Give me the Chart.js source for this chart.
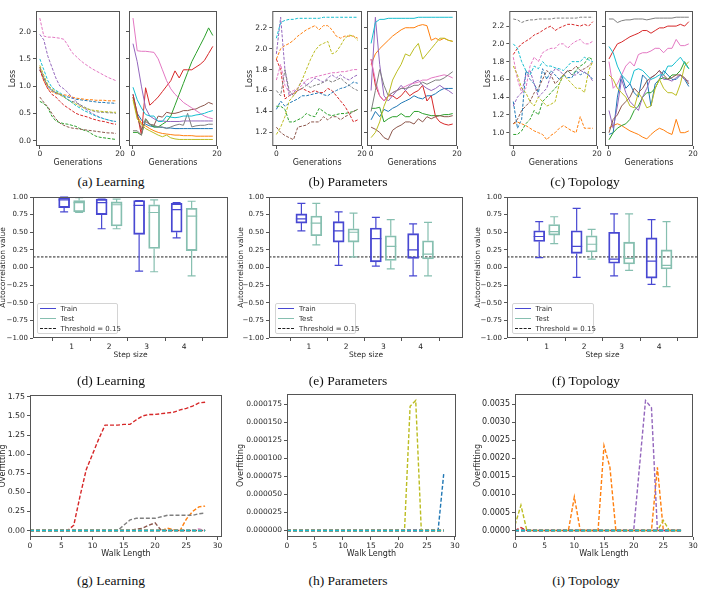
<!DOCTYPE html>
<html lang="en">
<head>
  <meta charset="UTF-8">
  <title>Fitness landscape analysis</title>
  <script src="https://cdn.jsdelivr.net/npm/chart.js"></script>
  <style>
    body { margin: 0; background: #fff; width: 701px; height: 590px; position: relative; overflow: hidden; font-family: 'DejaVu Sans', sans-serif; }
    canvas { position: absolute; }
    .cap { position: absolute; font-family: 'Liberation Serif', serif; font-size: 13.5px; line-height: 14px; color: #111; transform: translateX(-50%); white-space: nowrap; }
    .lg { position: absolute; height: 31px; border: 1px solid #d4d4d4; border-radius: 2px; background: rgba(255,255,255,0.85); box-sizing: border-box; font: 7px 'DejaVu Sans', sans-serif; color: #333; }
    .lg div { position: absolute; left: 0; height: 10px; line-height: 10px; white-space: nowrap; }
    .lg i { display: inline-block; width: 16px; height: 0; vertical-align: middle; margin: 0 5px 0 2px; }
  </style>
</head>
<body>
  <canvas id="aTest"></canvas><canvas id="aTrain"></canvas>
  <canvas id="bTest"></canvas><canvas id="bTrain"></canvas>
  <canvas id="cTest"></canvas><canvas id="cTrain"></canvas>
  <canvas id="dBox"></canvas><canvas id="eBox"></canvas><canvas id="fBox"></canvas>
  <canvas id="gOver"></canvas><canvas id="hOver"></canvas><canvas id="iOver"></canvas>

  <div class="cap" style="left:111px;top:175px">(a) Learning</div>
  <div class="cap" style="left:348px;top:175px">(b) Parameters</div>
  <div class="cap" style="left:585px;top:175px">(c) Topology</div>
  <div class="cap" style="left:111px;top:374px">(d) Learning</div>
  <div class="cap" style="left:348px;top:374px">(e) Parameters</div>
  <div class="cap" style="left:586px;top:374px">(f) Topology</div>
  <div class="cap" style="left:111px;top:574px">(g) Learning</div>
  <div class="cap" style="left:348px;top:574px">(h) Parameters</div>
  <div class="cap" style="left:586px;top:574px">(i) Topology</div>

  <script>
    // matplotlib tab10, series below are listed in this order
    const tab10 = ['#1f77b4', '#ff7f0e', '#2ca02c', '#d62728', '#9467bd', '#8c564b', '#e377c2', '#7f7f7f', '#bcbd22', '#17becf'];
    const FONT = "'DejaVu Sans', sans-serif";
    const INK = '#262626';
    const SPINE = '#555555';
    const trainColor = '#4848d2';
    const testColor = '#86bfb0';

    const generations = [0, 1, 2, 3, 4, 5, 6, 7, 8, 9, 10, 11, 12, 13, 14, 15, 16, 17, 18, 19];
    const generationTicks = [0, 20];
    const learningLossTicks = [0, 0.5, 1.0, 1.5, 2.0];
    const paramLossTicks = [1.2, 1.4, 1.6, 1.8, 2.0, 2.2];
    const topoLossTicks = [1.0, 1.2, 1.4, 1.6, 1.8, 2.0, 2.2];

    // (a) Learning - test loss (dashed) and train loss (solid), one row per tab10 colour
    const learningTest = [
      [1.30, 1.15, 1.00, 0.92, 0.88, 0.85, 0.82, 0.80, 0.78, 0.76, 0.75, 0.74, 0.73, 0.72, 0.71, 0.70, 0.70, 0.69, 0.69, 0.68],
      [1.35, 1.10, 0.95, 0.90, 0.86, 0.85, 0.84, 0.83, 0.80, 0.78, 0.77, 0.76, 0.75, 0.75, 0.74, 0.74, 0.74, 0.73, 0.73, 0.73],
      [0.72, 0.68, 0.60, 0.45, 0.36, 0.33, 0.31, 0.30, 0.28, 0.26, 0.22, 0.19, 0.17, 0.12, 0.08, 0.06, 0.05, 0.04, 0.03, 0.02],
      [1.30, 1.10, 0.95, 0.85, 0.80, 0.72, 0.65, 0.60, 0.55, 0.50, 0.47, 0.45, 0.43, 0.40, 0.38, 0.36, 0.35, 0.33, 0.31, 0.30],
      [1.95, 1.85, 1.55, 1.35, 1.15, 1.00, 0.95, 0.88, 0.80, 0.72, 0.65, 0.60, 0.55, 0.50, 0.46, 0.43, 0.40, 0.38, 0.36, 0.35],
      [0.80, 0.70, 0.62, 0.50, 0.40, 0.32, 0.28, 0.25, 0.23, 0.22, 0.21, 0.20, 0.19, 0.18, 0.17, 0.16, 0.15, 0.14, 0.14, 0.13],
      [2.25, 1.92, 1.90, 1.90, 1.89, 1.88, 1.86, 1.75, 1.62, 1.55, 1.48, 1.42, 1.37, 1.32, 1.28, 1.24, 1.20, 1.16, 1.13, 1.10],
      [1.35, 1.15, 1.00, 0.92, 0.88, 0.84, 0.80, 0.75, 0.72, 0.70, 0.66, 0.62, 0.58, 0.55, 0.53, 0.52, 0.52, 0.51, 0.51, 0.50],
      [1.38, 1.20, 1.02, 0.95, 0.90, 0.85, 0.80, 0.75, 0.70, 0.67, 0.63, 0.60, 0.58, 0.56, 0.55, 0.54, 0.53, 0.53, 0.52, 0.52],
      [1.50, 1.30, 1.10, 0.98, 0.92, 0.88, 0.82, 0.75, 0.70, 0.64, 0.60, 0.55, 0.52, 0.48, 0.45, 0.42, 0.40, 0.38, 0.36, 0.35]
    ];
    const learningTrain = [
      [0.85, 0.50, 0.38, 0.30, 0.27, 0.25, 0.25, 0.24, 0.23, 0.23, 0.22, 0.22, 0.22, 0.22, 0.22, 0.22, 0.22, 0.22, 0.22, 0.22],
      [0.80, 0.45, 0.32, 0.27, 0.22, 0.18, 0.15, 0.13, 0.12, 0.11, 0.10, 0.10, 0.09, 0.09, 0.09, 0.08, 0.08, 0.08, 0.08, 0.08],
      [0.15, 0.15, 0.10, 0.40, 0.30, 0.25, 0.25, 0.30, 0.35, 0.45, 0.65, 0.85, 1.05, 1.25, 1.45, 1.60, 1.75, 1.90, 2.07, 1.93],
      [0.85, 0.50, 0.10, 0.97, 0.65, 0.72, 0.80, 0.90, 1.00, 1.10, 1.28, 1.15, 1.30, 1.30, 1.30, 1.35, 1.40, 1.47, 1.60, 1.73],
      [1.78, 1.45, 1.00, 0.60, 0.45, 0.40, 0.36, 0.36, 0.35, 0.35, 0.35, 0.35, 0.36, 0.36, 0.36, 0.36, 0.36, 0.36, 0.36, 0.36],
      [0.80, 0.45, 0.20, 0.35, 0.30, 0.28, 0.45, 0.43, 0.52, 0.50, 0.50, 0.52, 0.55, 0.55, 0.57, 0.58, 0.62, 0.65, 0.70, 0.67],
      [2.25, 1.65, 1.64, 1.64, 1.63, 1.62, 1.50, 1.30, 1.10, 0.95, 0.85, 0.78, 0.70, 0.65, 0.60, 0.55, 0.50, 0.45, 0.42, 0.40],
      [0.18, 0.18, 0.10, 0.40, 0.30, 0.28, 0.25, 0.25, 0.22, 0.25, 0.28, 0.30, 0.28, 0.50, 0.25, 0.27, 0.28, 0.28, 0.30, 0.30],
      [0.75, 0.40, 0.30, 0.22, 0.18, 0.14, 0.10, 0.07, 0.10, 0.05, 0.03, 0.02, 0.02, 0.02, 0.02, 0.02, 0.02, 0.02, 0.02, 0.02],
      [0.98, 0.75, 0.60, 0.48, 0.45, 0.45, 0.35, 0.35, 0.45, 0.43, 0.42, 0.43, 0.45, 0.45, 0.45, 0.47, 0.48, 0.50, 0.53, 0.55]
    ];

    // (b) Parameters
    const paramTest = [
      [1.42, 1.50, 1.45, 1.48, 1.50, 1.52, 1.55, 1.55, 1.56, 1.57, 1.58, 1.56, 1.55, 1.58, 1.60, 1.62, 1.63, 1.65, 1.68, 1.67],
      [1.90, 2.00, 2.03, 2.05, 2.08, 2.12, 2.15, 2.18, 2.20, 2.22, 2.18, 2.22, 2.22, 2.18, 2.12, 2.10, 2.12, 2.12, 2.12, 2.10],
      [1.45, 1.45, 1.42, 1.30, 1.30, 1.32, 1.34, 1.38, 1.36, 1.35, 1.43, 1.40, 1.37, 1.36, 1.37, 1.38, 1.38, 1.39, 1.40, 1.42],
      [1.90, 1.80, 1.52, 1.55, 1.57, 1.60, 1.62, 1.60, 1.58, 1.60, 1.58, 1.58, 1.62, 1.60, 1.55, 1.50, 1.45, 1.38, 1.30, 1.32],
      [1.95, 2.30, 1.80, 1.55, 1.58, 1.62, 1.70, 1.65, 1.68, 1.72, 1.70, 1.68, 1.72, 1.75, 1.72, 1.75, 1.72, 1.70, 1.73, 1.75],
      [1.25, 1.20, 1.17, 1.15, 1.13, 1.25, 1.26, 1.27, 1.30, 1.30, 1.30, 1.35, 1.32, 1.35, 1.35, 1.32, 1.35, 1.37, 1.40, 1.42],
      [1.70, 1.85, 1.65, 1.58, 1.60, 1.62, 1.65, 1.70, 1.72, 1.73, 1.74, 1.75, 1.76, 1.77, 1.77, 1.78, 1.78, 1.79, 1.80, 1.80],
      [1.60, 1.55, 1.80, 1.60, 1.55, 1.60, 1.62, 1.65, 1.63, 1.65, 1.66, 1.68, 1.70, 1.68, 1.70, 1.72, 1.68, 1.65, 1.62, 1.60],
      [1.18, 1.25, 1.35, 1.50, 1.55, 1.62, 1.70, 1.80, 1.90, 1.98, 2.03, 2.05, 2.07, 1.95, 1.97, 2.03, 2.10, 2.13, 2.12, 2.08],
      [2.10, 2.25, 2.27, 2.28, 2.28, 2.29, 2.29, 2.29, 2.29, 2.29, 2.29, 2.30, 2.30, 2.30, 2.30, 2.30, 2.30, 2.30, 2.30, 2.30]
    ];
    const paramTrain = [
      [1.32, 1.40, 1.35, 1.42, 1.40, 1.43, 1.45, 1.48, 1.50, 1.52, 1.55, 1.53, 1.52, 1.55, 1.55, 1.57, 1.60, 1.62, 1.62, 1.62],
      [1.85, 1.95, 2.00, 2.04, 2.08, 2.12, 2.15, 2.18, 2.20, 2.20, 2.20, 2.22, 2.23, 2.22, 2.08, 2.10, 2.08, 2.10, 2.08, 2.07],
      [1.43, 1.43, 1.44, 1.30, 1.33, 1.35, 1.35, 1.38, 1.35, 1.35, 1.40, 1.40, 1.38, 1.37, 1.36, 1.36, 1.36, 1.37, 1.37, 1.38],
      [1.90, 1.65, 1.55, 1.50, 1.55, 1.55, 1.52, 1.55, 1.60, 1.55, 1.58, 1.60, 1.65, 1.50, 1.55, 1.35, 1.30, 1.28, 1.27, 1.28],
      [1.60, 2.30, 1.85, 1.55, 1.50, 1.55, 1.60, 1.65, 1.60, 1.65, 1.68, 1.70, 1.65, 1.62, 1.60, 1.62, 1.65, 1.62, 1.60, 1.57],
      [1.25, 1.23, 1.20, 1.15, 1.13, 1.22, 1.25, 1.27, 1.30, 1.30, 1.28, 1.33, 1.30, 1.35, 1.33, 1.35, 1.36, 1.35, 1.35, 1.36],
      [1.90, 1.70, 1.55, 1.50, 1.55, 1.58, 1.60, 1.62, 1.64, 1.66, 1.67, 1.68, 1.70, 1.70, 1.72, 1.73, 1.74, 1.75, 1.74, 1.72],
      [1.40, 1.60, 1.80, 1.65, 1.55, 1.58, 1.60, 1.62, 1.62, 1.63, 1.65, 1.65, 1.68, 1.66, 1.68, 1.70, 1.70, 1.72, 1.75, 1.78],
      [1.15, 1.20, 1.30, 1.45, 1.55, 1.70, 1.78, 1.85, 1.95, 1.93, 2.00, 2.05, 1.90, 1.95, 2.00, 2.05, 2.10, 2.10, 2.08, 2.07],
      [2.05, 2.25, 2.28, 2.28, 2.29, 2.29, 2.29, 2.29, 2.29, 2.29, 2.29, 2.30, 2.30, 2.30, 2.30, 2.30, 2.30, 2.30, 2.30, 2.30]
    ];

    // (c) Topology
    const topoTest = [
      [1.35, 1.05, 1.15, 1.70, 1.60, 1.55, 1.45, 1.72, 1.60, 1.70, 1.65, 1.60, 1.65, 1.62, 1.62, 1.70, 1.65, 1.68, 1.65, 1.60],
      [1.10, 1.12, 1.10, 1.08, 1.05, 1.02, 1.00, 0.98, 0.92, 0.97, 1.00, 1.05, 1.08, 1.05, 1.02, 1.00, 1.18, 1.05, 1.05, 1.05],
      [0.98, 0.98, 1.02, 1.10, 1.15, 1.25, 1.20, 1.35, 1.40, 1.45, 1.50, 1.55, 1.65, 1.70, 1.65, 1.70, 1.75, 1.78, 1.85, 1.82],
      [1.88, 1.95, 2.00, 2.03, 2.06, 2.10, 2.12, 2.15, 2.18, 2.20, 2.15, 2.18, 2.20, 2.22, 2.22, 2.21, 2.20, 2.22, 2.20, 2.25],
      [1.30, 1.40, 1.45, 1.65, 1.70, 1.55, 1.40, 1.45, 1.50, 1.65, 1.72, 1.70, 1.65, 1.70, 1.65, 1.65, 1.70, 1.68, 1.65, 1.58],
      [1.10, 1.15, 1.25, 1.30, 1.35, 1.45, 1.50, 1.60, 1.70, 1.65, 1.55, 1.60, 1.65, 1.70, 1.70, 1.75, 1.70, 1.72, 1.75, 1.80],
      [1.85, 1.60, 1.45, 1.50, 1.75, 1.85, 1.80, 1.90, 1.93, 1.95, 1.95, 2.00, 2.00, 1.95, 2.00, 2.03, 2.05, 2.00, 2.00, 2.03],
      [2.28, 2.27, 2.24, 2.26, 2.27, 2.27, 2.28, 2.28, 2.28, 2.28, 2.29, 2.29, 2.29, 2.29, 2.29, 2.29, 2.30, 2.30, 2.30, 2.30],
      [1.75, 1.65, 1.50, 1.45, 1.35, 1.30, 1.40, 1.35, 1.30, 1.32, 1.35, 1.55, 1.65, 1.60, 1.55, 1.50, 1.50, 1.45, 1.70, 1.80],
      [2.00, 1.95, 1.80, 1.70, 1.65, 1.75, 1.72, 1.80, 1.75, 1.75, 1.73, 1.72, 1.70, 1.75, 1.80, 1.80, 1.80, 1.85, 1.82, 1.80]
    ];
    const topoTrain = [
      [0.98, 1.00, 1.40, 1.65, 1.50, 1.55, 1.45, 1.40, 1.65, 1.60, 1.30, 1.55, 1.60, 1.70, 1.65, 1.60, 1.60, 1.65, 1.60, 1.52],
      [1.05, 1.08, 1.10, 1.08, 1.05, 1.02, 1.00, 0.98, 0.95, 0.93, 0.98, 1.02, 1.05, 1.03, 1.00, 0.98, 1.15, 1.00, 1.00, 1.02],
      [0.92, 1.00, 1.05, 1.08, 1.10, 1.15, 1.25, 1.30, 1.40, 1.45, 1.45, 1.50, 1.60, 1.62, 1.60, 1.65, 1.65, 1.70, 1.80, 1.72],
      [1.83, 1.92, 2.00, 2.02, 2.05, 2.08, 2.10, 2.12, 2.15, 2.15, 2.12, 2.15, 2.18, 2.18, 2.20, 2.20, 2.20, 2.22, 2.20, 2.25],
      [1.25, 1.05, 1.30, 1.60, 1.45, 1.35, 1.30, 1.25, 1.40, 1.50, 1.62, 1.65, 1.70, 1.60, 1.60, 1.58, 1.62, 1.65, 1.60, 1.58],
      [1.00, 1.15, 1.20, 1.30, 1.35, 1.40, 1.50, 1.45, 1.50, 1.58, 1.62, 1.65, 1.70, 1.65, 1.60, 1.62, 1.65, 1.65, 1.62, 1.55],
      [1.80, 1.50, 1.55, 1.65, 1.75, 1.80, 1.75, 1.88, 1.90, 1.90, 1.92, 1.95, 1.95, 1.90, 1.95, 1.95, 2.05, 1.98, 1.98, 2.00],
      [2.28, 2.28, 2.24, 2.26, 2.27, 2.27, 2.28, 2.28, 2.28, 2.27, 2.28, 2.29, 2.29, 2.29, 2.29, 2.29, 2.30, 2.30, 2.30, 2.30],
      [1.65, 1.60, 1.50, 1.45, 1.40, 1.30, 1.28, 1.45, 1.38, 1.28, 1.30, 1.50, 1.60, 1.50, 1.45, 1.45, 1.42, 1.55, 1.75, 1.80],
      [1.97, 1.90, 1.75, 1.65, 1.60, 1.55, 1.70, 1.72, 1.70, 1.65, 1.60, 1.62, 1.65, 1.65, 1.75, 1.75, 1.80, 1.85, 1.78, 1.72]
    ];

    // (d)-(f) autocorrelation boxes: [whisker low, q1, median, q3, whisker high] per step size
    const stepSizes = [1, 2, 3, 4];
    const autocorrTicks = [-1, -0.75, -0.5, -0.25, 0, 0.25, 0.5, 0.75, 1];
    const threshold = 0.15;
    const learningTrainBox = [[0.79, 0.85, 0.96, 0.99, 1.00], [0.55, 0.75, 0.92, 0.97, 0.97], [-0.05, 0.47, 0.88, 0.95, 0.95], [0.42, 0.50, 0.82, 0.91, 0.92]];
    const learningTestBox = [[0.78, 0.79, 0.92, 0.95, 0.99], [0.55, 0.59, 0.89, 0.93, 0.97], [-0.06, 0.27, 0.78, 0.89, 0.96], [-0.12, 0.24, 0.73, 0.84, 0.94]];
    const paramTrainBox = [[0.52, 0.63, 0.69, 0.76, 0.91], [0.03, 0.36, 0.52, 0.65, 0.79], [0.02, 0.08, 0.41, 0.56, 0.71], [-0.12, 0.13, 0.25, 0.48, 0.62]];
    const paramTestBox = [[0.32, 0.45, 0.63, 0.73, 0.91], [0.15, 0.36, 0.50, 0.55, 0.77], [-0.02, 0.10, 0.30, 0.45, 0.68], [-0.12, 0.12, 0.19, 0.38, 0.64]];
    const topoTrainBox = [[0.14, 0.37, 0.44, 0.52, 0.65], [-0.14, 0.20, 0.30, 0.52, 0.84], [-0.12, 0.06, 0.12, 0.50, 0.76], [-0.24, -0.15, 0.09, 0.42, 0.68]];
    const topoTestBox = [[0.34, 0.46, 0.51, 0.61, 0.72], [0.12, 0.22, 0.33, 0.45, 0.54], [-0.04, 0.05, 0.13, 0.36, 0.76], [-0.27, -0.02, 0.03, 0.25, 0.65]];

    // (g)-(i) overfitting along the walk
    const walkLengths = [0, 1, 2, 3, 4, 5, 6, 7, 8, 9, 10, 11, 12, 13, 14, 15, 16, 17, 18, 19, 20, 21, 22, 23, 24, 25, 26, 27, 28];
    const walkTicks = [0, 5, 10, 15, 20, 25, 30];
    const flatZero = [0, 0, 0, 0, 0, 0, 0, 0, 0, 0, 0, 0, 0, 0, 0, 0, 0, 0, 0, 0, 0, 0, 0, 0, 0, 0, 0, 0, 0];
    const learningOverTicks = [0, 0.25, 0.5, 0.75, 1.0, 1.25, 1.5, 1.75];
    const learningOverRed = [0, 0, 0, 0, 0, 0, 0, 0.07, 0.45, 0.80, 1.00, 1.20, 1.38, 1.38, 1.38, 1.39, 1.39, 1.45, 1.50, 1.52, 1.52, 1.53, 1.54, 1.55, 1.58, 1.60, 1.63, 1.67, 1.68];
    const learningOverGray = [0, 0, 0, 0, 0, 0, 0, 0, 0, 0, 0, 0, 0, 0, 0, 0.07, 0.14, 0.16, 0.16, 0.16, 0.16, 0.18, 0.20, 0.20, 0.20, 0.20, 0.20, 0.22, 0.23];
    const learningOverBrown = [0, 0, 0, 0, 0, 0, 0, 0, 0, 0, 0, 0, 0, 0, 0, 0, 0, 0.02, 0.03, 0.07, 0.10, 0, 0, 0, 0, 0, 0, 0, 0];
    const learningOverOrange = [0, 0, 0, 0, 0, 0, 0, 0, 0, 0, 0, 0, 0, 0, 0, 0, 0, 0, 0, 0, 0, 0, 0.03, 0.01, 0, 0.15, 0.25, 0.31, 0.32];
    const learningOverPink = [0, 0, 0, 0, 0, 0, 0, 0, 0, 0, 0, 0, 0, 0, 0, 0, 0, 0, 0, 0, 0, 0, 0, 0, 0, 0, 0, 0.02, 0];
    const paramOverTicks = [0, 0.000025, 0.00005, 0.000075, 0.0001, 0.000125, 0.00015, 0.000175];
    const paramOverOlive = [0, 0, 0, 0, 0, 0, 0, 0, 0, 0, 0, 0, 0, 0, 0, 0, 0, 0, 0, 0, 0, 0, 0.000172, 0.00018, 0, 0, 0, 0, 0];
    const paramOverBlue = [0, 0, 0, 0, 0, 0, 0, 0, 0, 0, 0, 0, 0, 0, 0, 0, 0, 0, 0, 0, 0, 0, 0, 0, 0, 0, 0, 0, 0.000078];
    const topoOverTicks = [0, 0.0005, 0.001, 0.0015, 0.002, 0.0025, 0.003, 0.0035];
    const topoOverOlive = [0.00015, 0.0007, 0, 0, 0, 0, 0, 0, 0, 0, 0, 0, 0, 0, 0, 0, 0, 0, 0, 0, 0, 0, 0, 0, 0, 0.00028, 0, 0, 0];
    const topoOverRed = [0, 0.00008, 0, 0, 0, 0, 0, 0, 0, 0, 0, 0, 0, 0, 0, 0, 0, 0, 0, 0, 0, 0, 0, 0, 0, 0, 0, 0, 0];
    const topoOverOrange = [0, 0, 0, 0, 0, 0, 0, 0, 0, 0, 0.00093, 0, 0, 0, 0, 0.00235, 0.00175, 0, 0, 0, 0, 0, 0, 0, 0.00175, 0, 0, 0, 0];
    const topoOverPurple = [0, 0, 0, 0, 0, 0, 0, 0, 0, 0, 0, 0, 0, 0, 0, 0, 0, 0, 0, 0, 0, 0.0018, 0.0036, 0.0034, 0, 0, 0, 0, 0];

    // spines round the plot area, as matplotlib draws them
    const framePlugin = {
      id: 'frame',
      afterDraw(chart) {
        const a = chart.chartArea, ctx = chart.ctx;
        ctx.save();
        ctx.strokeStyle = SPINE;
        ctx.lineWidth = 1;
        ctx.strokeRect(a.left + 0.5, a.top + 0.5, a.right - a.left - 1, a.bottom - a.top - 1);
        ctx.restore();
      }
    };

    // whiskers, caps and medians for the box datasets
    const whiskerPlugin = {
      id: 'whiskers',
      afterDatasetsDraw(chart) {
        const {ctx, scales: {x, y}} = chart;
        chart.data.datasets.forEach(ds => {
          if (!ds.stats) return;
          ctx.save();
          ctx.strokeStyle = ds.borderColor;
          ctx.lineWidth = ds.borderWidth;
          ds.stats.forEach((s, i) => {
            const cx = x.getPixelForValue(ds.data[i].x);
            const [lo, q1, med, q3, hi] = s.map(v => y.getPixelForValue(v));
            const half = ds.barThickness / 2, cap = 4;
            ctx.beginPath();
            ctx.moveTo(cx, q1); ctx.lineTo(cx, lo);
            ctx.moveTo(cx, q3); ctx.lineTo(cx, hi);
            ctx.moveTo(cx - cap, lo); ctx.lineTo(cx + cap, lo);
            ctx.moveTo(cx - cap, hi); ctx.lineTo(cx + cap, hi);
            ctx.moveTo(cx - half, med); ctx.lineTo(cx + half, med);
            ctx.stroke();
          });
          ctx.restore();
        });
      }
    };

    // canvas box (outer) and plot frame (chart area), both in page pixels
    function geom(id, box, frame) {
      const c = document.getElementById(id);
      c.width = box.r - box.l;
      c.height = box.b - box.t;
      c.style.left = box.l + 'px';
      c.style.top = box.t + 'px';
      return {canvas: c, box, padding: {left: 0, top: frame.t - box.t, right: box.r - frame.r, bottom: 0},
              yW: frame.l - box.l, xH: box.b - frame.b};
    }

    function makeAxis(isX, g, o) {
      const lh = o.titleSize * 1.2;
      let titlePad = 0;
      if (o.title) titlePad = Math.max(0, (isX ? g.box.b - o.titleAt : o.titleAt - g.box.l) - lh / 2);
      return {
        type: 'linear', min: o.min, max: o.max, offset: false,
        afterBuildTicks: s => { s.ticks = o.ticks.map(v => ({value: v})); },
        afterFit: s => { if (isX) s.height = g.xH; else s.width = g.yW; },
        grid: {drawOnChartArea: false, drawTicks: true, tickLength: 3, color: SPINE, lineWidth: 1},
        border: {display: false},
        ticks: {display: o.labels !== false, font: {family: FONT, size: o.size}, color: INK, padding: o.pad,
                maxRotation: 0, autoSkip: false, callback: v => o.fmt(v)},
        title: {display: !!o.title, text: o.title || '', font: {family: FONT, size: o.titleSize}, color: INK,
                padding: isX ? {top: 0, bottom: titlePad} : {top: titlePad, bottom: 0}}
      };
    }

    function baseOptions(g, x, y) {
      return {
        responsive: false, animation: false, devicePixelRatio: 1,
        layout: {padding: g.padding},
        plugins: {legend: {display: false}, tooltip: {enabled: false}},
        scales: {x, y}
      };
    }

    function lineChart(id, box, frame, xs, series, colors, style, xo, yo) {
      const g = geom(id, box, frame);
      new Chart(g.canvas, {
        type: 'line',
        data: {
          datasets: series.map((vals, k) => ({
            data: vals.map((v, i) => ({x: xs[i], y: v})),
            borderColor: colors[k], borderWidth: style.width, borderDash: style.dash,
            pointRadius: 0, fill: false, tension: 0, order: -k
          }))
        },
        options: baseOptions(g, makeAxis(true, g, xo), makeAxis(false, g, yo)),
        plugins: [framePlugin]
      });
    }

    function boxChart(id, box, frame, trainStats, testStats, xRange, yTitleAt) {
      const g = geom(id, box, frame);
      const shift = 0.2;
      const boxSet = (label, stats, color, dir) => ({
        type: 'bar', label, stats,
        data: stats.map((s, i) => ({x: stepSizes[i] + dir * shift, y: [s[1], s[3]]})),
        borderColor: color, backgroundColor: 'rgba(0,0,0,0)', borderWidth: 1.2, borderSkipped: false,
        barThickness: 11, grouped: false
      });
      new Chart(g.canvas, {
        type: 'bar',
        data: {
          datasets: [
            boxSet('Train', trainStats, trainColor, -1),
            boxSet('Test', testStats, testColor, 1),
            {type: 'line', label: 'Threshold = 0.15', data: xRange.map(v => ({x: v, y: threshold})),
             borderColor: '#222', borderWidth: 1, borderDash: [2.5, 1.5], pointRadius: 0}
          ]
        },
        options: baseOptions(g,
          makeAxis(true, g, {min: xRange[0], max: xRange[1], ticks: stepSizes, fmt: v => String(v), size: 7.5, pad: 2,
                             title: 'Step size', titleAt: 355, titleSize: 7.5}),
          makeAxis(false, g, {min: -1, max: 1, ticks: autocorrTicks, size: 7, pad: 2,
                              fmt: v => (v < 0 ? '\u2212' : '') + Math.abs(v).toFixed(2),
                              title: 'Autocorrelation value', titleAt: yTitleAt, titleSize: 7.5})),
        plugins: [framePlugin, whiskerPlugin]
      });
      return g;
    }

    function legend(left, width) {
      const el = document.createElement('div');
      el.className = 'lg';
      el.style.left = left + 'px';
      el.style.top = '302.5px';
      el.style.width = width + 'px';
      const items = [['Train', '1.5px solid ' + trainColor], ['Test', '1.5px solid ' + testColor], ['Threshold = 0.15', '1px dashed #222']];
      items.forEach(([txt, line], k) => {
        const row = document.createElement('div');
        row.style.top = (k * 10.2) + 'px';
        row.innerHTML = '<i style="border-top:' + line + '"></i>' + txt;
        el.appendChild(row);
      });
      document.body.appendChild(el);
    }

    // ---- top row: loss over generations ----
    const fmt1 = v => v.toFixed(1);
    const dashed = {width: 1, dash: [3, 1.5]};
    const solid = {width: 1, dash: []};
    const genAxis = {min: -0.95, max: 20, ticks: generationTicks, fmt: v => String(v), size: 7.5, pad: 1,
                     title: 'Generations', titleAt: 162.5, titleSize: 8};
    const topRows = [
      ['aTest', 'aTrain', learningTest, learningTrain, 36, 120, 129, 217, 13.3, -0.1, 2.38, learningLossTicks],
      ['bTest', 'bTrain', paramTest, paramTrain, 272, 362, 367, 457, 250, 1.07, 2.36, paramLossTicks],
      ['cTest', 'cTrain', topoTest, topoTrain, 509, 597, 605, 693, 488, 0.85, 2.37, topoLossTicks]
    ];
    topRows.forEach(([idL, idR, test, train, l1, r1, l2, r2, yt, ymin, ymax, yticks]) => {
      lineChart(idL, {l: yt - 5.3, t: 3, r: r1 + 8, b: 170}, {l: l1, t: 11, r: r1, b: 146}, generations, test, tab10, dashed,
        genAxis,
        {min: ymin, max: ymax, ticks: yticks, fmt: fmt1, size: 7.5, pad: 2, title: 'Loss', titleAt: yt, titleSize: 8});
      lineChart(idR, {l: l2 - 5, t: 3, r: Math.min(r2 + 8, 701), b: 170}, {l: l2, t: 11, r: r2, b: 146}, generations, train, tab10, solid,
        genAxis,
        {min: ymin, max: ymax, ticks: yticks, fmt: fmt1, size: 7.5, pad: 2, labels: false});
    });

    // ---- middle row: autocorrelation ----
    boxChart('dBox', {l: -2, t: 189, r: 236, b: 362}, {l: 33, t: 197, r: 228, b: 338}, learningTrainBox, learningTestBox, [-0.03, 5.17], 3.5);
    boxChart('eBox', {l: 236, t: 189, r: 470, b: 362}, {l: 269, t: 197, r: 463, b: 338}, paramTrainBox, paramTestBox, [-0.07, 5.14], 241);
    boxChart('fBox', {l: 473, t: 189, r: 701, b: 362}, {l: 507, t: 197, r: 698, b: 338}, topoTrainBox, topoTestBox, [-0.06, 5.04], 478);
    legend(36.5, 81.5);
    legend(275, 80.5);
    legend(511.5, 82.5);

    // ---- bottom row: overfitting ----
    const overDash = {width: 1.4, dash: [4, 2]};
    const walkAxis = max => ({min: 0, max, ticks: walkTicks, fmt: v => String(v), size: 7.5, pad: 2,
                              title: 'Walk Length', titleAt: 554, titleSize: 8});
    lineChart('gOver', {l: -2, t: 386, r: 232, b: 561}, {l: 30, t: 395, r: 222, b: 537}, walkLengths,
      [flatZero, learningOverOrange, flatZero, learningOverRed, flatZero, learningOverBrown, learningOverPink, learningOverGray, flatZero, flatZero],
      tab10, overDash, walkAxis(30.7),
      {min: -0.0845, max: 1.7745, ticks: learningOverTicks, fmt: v => v.toFixed(2), size: 7.8, pad: 2, title: 'Overfitting', titleAt: 3.3, titleSize: 8});
    lineChart('hOver', {l: 236, t: 386, r: 466, b: 561}, {l: 287, t: 394, r: 456, b: 537}, walkLengths,
      [paramOverBlue, flatZero, flatZero, flatZero, flatZero, flatZero, flatZero, flatZero, paramOverOlive, flatZero],
      tab10, overDash, walkAxis(30.2),
      {min: -0.000009, max: 0.000189, ticks: paramOverTicks, fmt: v => v.toFixed(6), size: 7.5, pad: 2, title: 'Overfitting', titleAt: 241, titleSize: 8});
    lineChart('iOver', {l: 473, t: 386, r: 701, b: 561}, {l: 515, t: 394, r: 693, b: 537}, walkLengths,
      [flatZero, topoOverOrange, flatZero, topoOverRed, topoOverPurple, flatZero, flatZero, flatZero, topoOverOlive, flatZero],
      tab10, overDash, walkAxis(30),
      {min: -0.00018, max: 0.00378, ticks: topoOverTicks, fmt: v => v.toFixed(4), size: 8, pad: 2, title: 'Overfitting', titleAt: 478, titleSize: 8});
  </script>
</body>
</html>
